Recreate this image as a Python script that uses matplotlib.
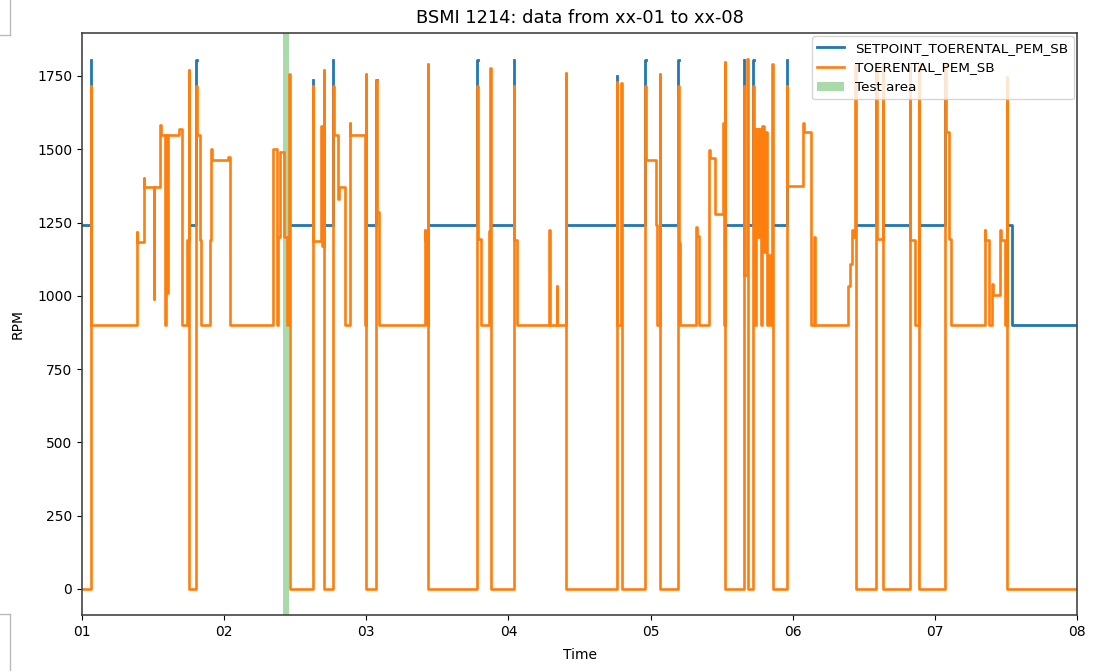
import numpy as np
import matplotlib
matplotlib.use("Agg")
import matplotlib.pyplot as plt
from matplotlib.lines import Line2D

# ---------------- data (step breakpoints, time in days of the month) ----------------
toerental_t = [1.000, 1.063, 1.066, 1.387, 1.390, 1.434, 1.437, 1.505, 1.508, 1.551,
               1.554, 1.585, 1.588, 1.600, 1.603, 1.680, 1.700, 1.703, 1.740, 1.752,
               1.755, 1.804, 1.807, 1.830, 1.835, 1.903, 1.908, 1.911, 2.030, 2.043,
               2.344, 2.374, 2.381, 2.392, 2.421, 2.440, 2.446, 2.458, 2.461, 2.625,
               2.628, 2.679, 2.686, 2.702, 2.705, 2.766, 2.770, 2.801, 2.806, 2.848,
               2.883, 2.887, 2.990, 2.995, 2.998, 3.071, 3.074, 3.090, 3.411, 3.414,
               3.425, 3.434, 3.437, 3.781, 3.784, 3.805, 3.863, 3.872, 3.875, 4.039,
               4.042, 4.060, 4.285, 4.289, 4.339, 4.343, 4.402, 4.405, 4.762, 4.765,
               4.793, 4.796, 4.961, 4.964, 4.968, 5.040, 5.045, 5.064, 5.067, 5.196,
               5.199, 5.207, 5.322, 5.326, 5.343, 5.413, 5.417, 5.453, 5.507, 5.517,
               5.520, 5.523, 5.657, 5.660, 5.681, 5.684, 5.723, 5.726, 5.737, 5.744,
               5.758, 5.765, 5.777, 5.784, 5.800, 5.807, 5.821, 5.826, 5.842, 5.857,
               5.860, 5.958, 5.961, 6.075, 6.079, 6.129, 6.150, 6.154, 6.387, 6.403,
               6.420, 6.424, 6.439, 6.442, 6.588, 6.591, 6.634, 6.637, 6.822, 6.825,
               6.862, 6.887, 6.890, 7.074, 7.077, 7.098, 7.116, 7.351, 7.355, 7.384,
               7.402, 7.406, 7.461, 7.465, 7.496, 7.506, 7.509, 8.000]
toerental_v = [0, 1717, 900, 1218, 1185, 1402, 1370, 990, 1370, 1583,
               1550, 900, 1550, 1010, 1550, 1568, 1545, 900, 1190, 1772,
               0, 1717, 1550, 1190, 900, 1190, 1500, 1462, 1475, 900,
               1500, 900, 1200, 1490, 1200, 900, 1200, 1755, 0, 1717,
               1187, 1580, 1170, 1772, 0, 1717, 1550, 1330, 1370, 900,
               1590, 1550, 900, 1755, 0, 1735, 1285, 900, 1224, 1190,
               900, 1790, 0, 1717, 1193, 900, 1220, 1778, 0, 1717,
               1190, 900, 1224, 900, 1035, 900, 1760, 0, 1730, 900,
               1725, 0, 1717, 1500, 1462, 1240, 900, 1756, 0, 1717,
               1180, 900, 1233, 1205, 900, 1498, 1470, 1279, 1590, 900,
               1796, 0, 1717, 1071, 1808, 0, 1717, 1570, 900, 1570,
               1200, 1570, 900, 1580, 1150, 1560, 900, 1140, 900, 1790,
               0, 1717, 1376, 1590, 1560, 900, 1200, 900, 1035, 1108,
               1224, 1200, 1788, 0, 1780, 1193, 1790, 0, 1790, 1190,
               900, 1795, 0, 1790, 1560, 1193, 900, 1225, 1190, 900,
               1040, 1004, 1225, 1190, 900, 1747, 0, 0]

setpoint_t = [1.000, 1.063, 1.066, 1.755, 1.804, 1.807, 2.461, 2.625, 2.628, 2.705,
              2.766, 2.769, 2.998, 3.071, 3.074, 3.437, 3.781, 3.784, 3.875, 4.039,
              4.042, 4.405, 4.762, 4.765, 4.796, 4.961, 4.964, 5.067, 5.196, 5.199,
              5.523, 5.657, 5.660, 5.684, 5.723, 5.726, 5.860, 5.958, 5.961, 6.442,
              6.588, 6.591, 6.637, 6.822, 6.825, 6.890, 7.074, 7.077, 7.509, 7.543,
              8.000]
setpoint_v = [1240, 1805, np.nan, 1240, 1805, np.nan, 1240, 1735, np.nan, 1240,
              1805, np.nan, 1240, 1735, np.nan, 1240, 1805, np.nan, 1240, 1805,
              np.nan, 1240, 1750, np.nan, 1240, 1805, np.nan, 1240, 1805, np.nan,
              1240, 1805, np.nan, 1240, 1805, np.nan, 1240, 1805, np.nan, 1240,
              1790, np.nan, 1240, 1790, np.nan, 1240, 1790, np.nan, 1240, 900,
              900]

test_area = (2.415, 2.455)
day_ticks = [1, 2, 3, 4, 5, 6, 7, 8]
day_labels = ["01", "02", "03", "04", "05", "06", "07", "08"]
title = "BSMI 1214: data from xx-01 to xx-08"

# ---------------- figure ----------------
fig = plt.figure(figsize=(10.94, 6.71), dpi=100)
ax = fig.add_axes([0.075, 0.0835, 0.9095, 0.8675])

ax.plot(setpoint_t, setpoint_v, drawstyle="steps-post", color="#1f77b4",
        lw=2.0, label="SETPOINT_TOERENTAL_PEM_SB")
ax.plot(toerental_t, toerental_v, drawstyle="steps-post", color="#ff7f0e",
        lw=1.9, label="TOERENTAL_PEM_SB")
ax.axvspan(test_area[0], test_area[1], color="tab:green", alpha=0.4, lw=0,
           label="Test area")

ax.set_xlim(1, 8)
ax.set_ylim(-89, 1897)
ax.set_xticks(day_ticks)
ax.set_xticklabels(day_labels)
ax.set_yticks([0, 250, 500, 750, 1000, 1250, 1500, 1750])
ax.tick_params(labelsize=10)
for s in ax.spines.values():
    s.set_color("#444444")
    s.set_linewidth(1.2)
ax.set_xlabel("Time", fontsize=10, labelpad=7)
ax.set_ylabel("RPM", fontsize=10, labelpad=9)
ax.set_title(title, fontsize=12.8, pad=7)
ax.legend(loc="upper right", fontsize=9.7, borderaxespad=0.25)

# screenshot border artefacts on the left
for xs, ys in [([0.009, 0.009], [1.0, 0.948]), ([0.0, 0.009], [0.948, 0.948]),
               ([0.009, 0.009], [0.0, 0.085]), ([0.0, 0.009], [0.085, 0.085])]:
    fig.add_artist(Line2D(xs, ys, transform=fig.transFigure, color="#bbbbbb", lw=1))

fig.savefig("out.png", dpi=100)
